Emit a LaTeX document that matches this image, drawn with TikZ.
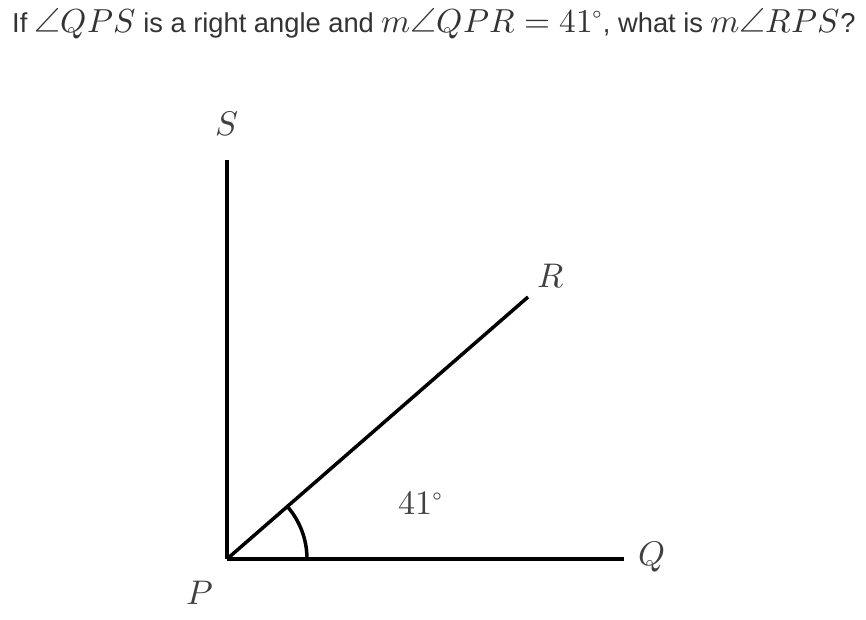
\documentclass[tikz,border=0pt]{standalone}
\usepackage{amsmath}
\usepackage{fontspec}
\usepackage{unicode-math}
\setmainfont{Liberation Sans}
\setmathfont{Latin Modern Math}[Scale=1.22]
\usepackage{tikz}

\begin{document}
\begin{tikzpicture}[x=1pt, y=-1pt,
    ray/.style={line width=3.5pt},
    lbl/.style={text=black!75, inner sep=0pt, font=\fontsize{28}{34}\selectfont}
]
\useasboundingbox (0,0) rectangle (866,620);
\node[anchor=west, inner sep=0pt, text=black!80, font=\fontsize{27.3}{32}\selectfont] (title) at (12,24)
    {If $\angle QPS$ is a right angle and $m\angle QPR=41^\circ$, what is $m\angle RPS$?};

\coordinate (p) at (227,559);
\coordinate (q) at (624,559);
\coordinate (r) at (528,297);
\coordinate (s) at (227,160);

\node[lbl] (lblS) at (227,124) {$S$};
\node[lbl] (lblR) at (551,276) {$R$};
\node[lbl] (lblQ) at (652,557) {$Q$};
\node[lbl] (lblP) at (200,593) {$P$};
\node[lbl] (lblA) at (421,503) {$41^\circ$};

\draw[ray] (p) -- (s);
\draw[ray] (p) -- (q);
\draw[ray] (p) -- (r);
\draw[ray] (p) ++(80,0) arc[start angle=0, end angle=-41, radius=80];
\end{tikzpicture}
\end{document}
